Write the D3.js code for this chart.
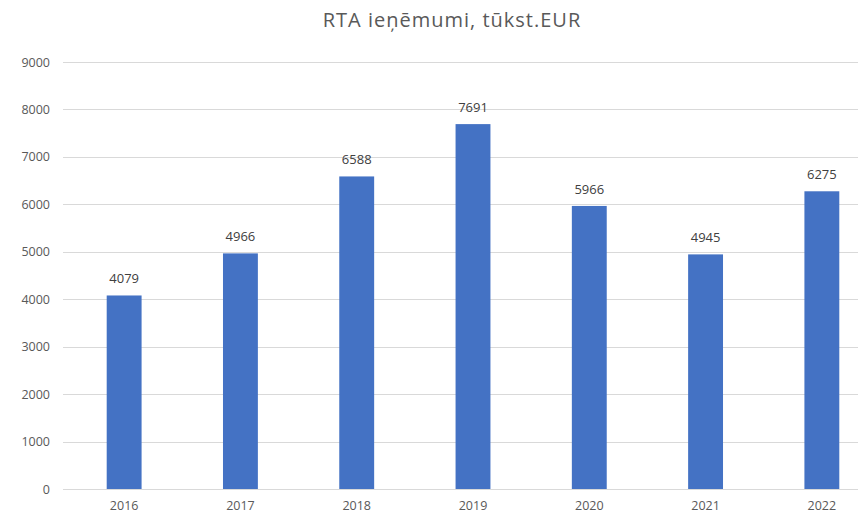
<!DOCTYPE html>
<html>
<head>
<meta charset="utf-8">
<script src="https://cdnjs.cloudflare.com/ajax/libs/d3/7.8.5/d3.min.js"></script>
<style>
  body { margin: 0; background: #fff; }
  svg { display: block; font-family: "Open Sans", "Noto Sans", sans-serif; }
</style>
</head>
<body>
<div id="chart"></div>
<script>
var years = ['2016', '2017', '2018', '2019', '2020', '2021', '2022'];
var revenue = [4079, 4966, 6588, 7691, 5966, 4945, 6275];
var yTicks = [0, 1000, 2000, 3000, 4000, 5000, 6000, 7000, 8000, 9000];

var width = 858, height = 515;

var svg = d3.select('#chart')
  .append('svg')
  .attr('width', width)
  .attr('height', height);

var x = d3.scaleBand()
  .domain(years)
  .range([66, 880])
  .paddingInner(0.7)
  .paddingOuter(0.35);

var y = d3.scaleLinear()
  .domain([0, 9000])
  .range([489, 62]);

// grid lines
svg.append('g')
  .selectAll('line')
  .data(yTicks)
  .enter()
  .append('line')
  .attr('x1', 63)
  .attr('x2', width)
  .attr('y1', function(d) { return Math.round(y(d)) + 0.5; })
  .attr('y2', function(d) { return Math.round(y(d)) + 0.5; })
  .attr('stroke', '#d9d9d9')
  .attr('stroke-width', 1);

// y axis labels
svg.append('g')
  .selectAll('text')
  .data(yTicks)
  .enter()
  .append('text')
  .attr('x', 50)
  .attr('y', function(d) { return y(d) + 4.5; })
  .attr('text-anchor', 'end')
  .attr('font-size', 12.5)
  .attr('fill', '#595959')
  .text(function(d) { return d; });

// bars
svg.append('g')
  .selectAll('rect')
  .data(revenue)
  .enter()
  .append('rect')
  .attr('x', function(d, i) { return x(years[i]); })
  .attr('y', function(d) { return y(d); })
  .attr('width', x.bandwidth())
  .attr('height', function(d) { return y(0) - y(d); })
  .attr('fill', '#4472c4');

// value labels
svg.append('g')
  .selectAll('text')
  .data(revenue)
  .enter()
  .append('text')
  .attr('x', function(d, i) { return x(years[i]) + x.bandwidth() / 2; })
  .attr('y', function(d) { return y(d) - 12; })
  .attr('text-anchor', 'middle')
  .attr('font-size', 13)
  .attr('fill', '#404040')
  .text(function(d) { return d; });

// x axis labels
svg.append('g')
  .selectAll('text')
  .data(years)
  .enter()
  .append('text')
  .attr('x', function(d) { return x(d) + x.bandwidth() / 2; })
  .attr('y', 510)
  .attr('text-anchor', 'middle')
  .attr('font-size', 12.5)
  .attr('fill', '#595959')
  .text(function(d) { return d; });

// title
svg.append('text')
  .attr('x', 452)
  .attr('y', 27)
  .attr('text-anchor', 'middle')
  .attr('font-size', 20)
  .attr('letter-spacing', 1)
  .attr('fill', '#595959')
  .text('RTA ieņēmumi, tūkst.EUR');
</script>
</body>
</html>
